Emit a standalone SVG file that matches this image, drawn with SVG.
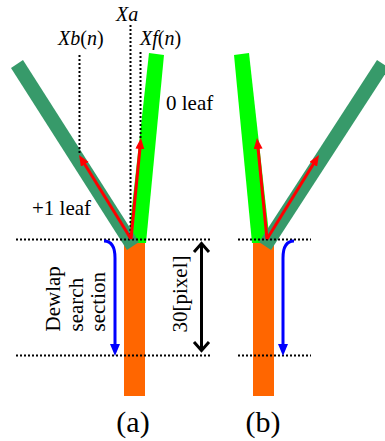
<svg xmlns="http://www.w3.org/2000/svg" width="385" height="441" viewBox="0 0 385 441">
<style>
text{font-family:'Liberation Serif','Times New Roman',Times,serif;fill:#000}
.t{font-size:21px}
.x{font-size:20px}
.i{font-style:italic}
.dot{stroke:#000;stroke-width:2;stroke-dasharray:2 2;fill:none}
.red{stroke:#FF0000;stroke-width:3;fill:none;marker-end:url(#ra)}
.blue{stroke:#0000FF;stroke-width:3;fill:none;marker-end:url(#ba)}
.orange{fill:#FF6600}
.lg{fill:#00FF00}
.dg{fill:#379A6A}
</style>
<defs>
<marker id="ra" markerUnits="userSpaceOnUse" markerWidth="12" markerHeight="10" refX="3" refY="4.5" orient="auto">
<path d="M0,0 L11,4.5 L0,9 z" fill="#FF0000"/>
</marker>
<marker id="ba" markerUnits="userSpaceOnUse" markerWidth="13" markerHeight="11" refX="3" refY="5" orient="auto">
<path d="M0,0 L12,5 L0,10 z" fill="#0000FF"/>
</marker>
</defs>

<g id="panel-a">
<g id="stem-a"><rect class="orange" x="124" y="243" width="21" height="153"/></g>
<g id="leaf0-a"><polygon class="lg" points="149,53 164,55 146,243 128,243"/></g>
<g id="leaf1-a"><polygon class="dg" points="11,68 23,60 139,242 127,250"/></g>
</g>
<g id="panel-b">
<g id="stem-b"><rect class="orange" x="253" y="243" width="21" height="153"/></g>
<g id="leaf0-b"><polygon class="lg" points="249,53 234,55 252,243 270,243"/></g>
<g id="leaf1-b"><polygon class="dg" points="389,68 377,60 259,242 271,250"/></g>
</g>

<g id="connectors">
<line class="dot" x1="16" y1="239.5" x2="212" y2="239.5"/>
<line class="dot" x1="16" y1="355.5" x2="212" y2="355.5"/>
<line class="dot" x1="238" y1="239.5" x2="311" y2="239.5"/>
<line class="dot" x1="238" y1="355.5" x2="311" y2="355.5"/>
<line class="dot" x1="79.5" y1="55" x2="79.5" y2="155"/>
<line class="dot" x1="130.5" y1="25" x2="130.5" y2="238"/>
<line class="dot" x1="140.5" y1="52" x2="140.5" y2="140"/>
<line class="red" x1="131" y1="239" x2="83.2" y2="161.8"/>
<line class="red" x1="131" y1="239" x2="140.2" y2="146"/>
<line class="red" x1="267" y1="239" x2="257.8" y2="146"/>
<line class="red" x1="267" y1="239" x2="314.8" y2="161.8"/>
<path class="blue" d="M104,241 Q115,241 115,258 L115,347"/>
<path class="blue" d="M294,241 Q283,241 283,258 L283,347"/>
<path d="M201.5,245 L201.5,349 M194,252 L201.5,243.5 L209,252 M194,342 L201.5,350.5 L209,342" stroke="#000" stroke-width="3" fill="none"/>
</g>

<g id="labels">
<text class="x i" x="116" y="21" font-family="Liberation Serif">Xa</text>
<text class="x" x="58" y="45" font-family="Liberation Serif"><tspan class="i">Xb</tspan>(<tspan class="i">n</tspan>)</text>
<text class="x" x="140" y="45" font-family="Liberation Serif"><tspan class="i">Xf</tspan>(<tspan class="i">n</tspan>)</text>
<text class="t" x="166" y="110" font-family="Liberation Serif">0 leaf</text>
<text class="t" x="32" y="215" font-family="Liberation Serif">+1 leaf</text>
<g transform="translate(0,331.5) rotate(-90)">
<text class="t" x="0" y="60" font-family="Liberation Serif">Dewlap</text>
<text class="t" x="0" y="83" font-family="Liberation Serif">search</text>
<text class="t" x="0" y="105" font-family="Liberation Serif">section</text>
</g>
<text class="t" transform="translate(187,294) rotate(-90)" text-anchor="middle" font-family="Liberation Serif">30[pixel]</text>
<text class="t" x="133" y="432" text-anchor="middle" font-size="30" style="font-size:30px" font-family="Liberation Serif">(a)</text>
<text class="t" x="263" y="432" text-anchor="middle" style="font-size:30px" font-family="Liberation Serif">(b)</text>
</g>
</svg>
